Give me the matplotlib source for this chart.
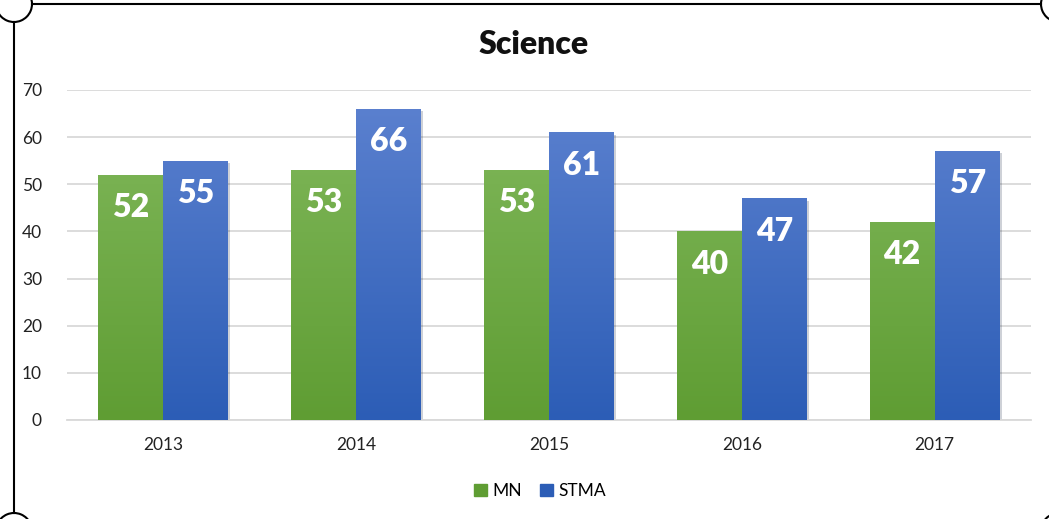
import matplotlib
matplotlib.use('Agg')
from matplotlib import pyplot as plt
from matplotlib.patches import Arc
from matplotlib.lines import Line2D
import matplotlib.patheffects as pe
import numpy as np

years = ['2013', '2014', '2015', '2016', '2017']
mn = [52, 53, 53, 40, 42]
stma = [55, 66, 61, 47, 57]
series_names = ['MN', 'STMA']

W, H = 1049, 519
plt.rcParams['font.family'] = ['Lato', 'DejaVu Sans']

fig = plt.figure(figsize=(W / 100, H / 100), dpi=100)
ax = fig.add_axes([67 / W, 1 - 420 / H, (1031 - 67) / W, (420 - 90) / H])

green_top, green_bot = '#82b95d', '#5f9d33'
blue_top, blue_bot = '#5d82d0', '#2c5db6'


def gradient_bars(ax, xs, vals, width, top, bot, label):
    cmap = matplotlib.colors.LinearSegmentedColormap.from_list('g', [bot, top])
    bars = ax.bar(xs, vals, width, color=bot, label=label, zorder=2,
                  path_effects=[pe.SimplePatchShadow(offset=(1.5, -1.5), alpha=0.2),
                                pe.Normal()])
    grad = np.linspace(0, 1, 256).reshape(-1, 1)
    for b in bars:
        x0, y0 = b.get_x(), b.get_y()
        w, h = b.get_width(), b.get_height()
        im = ax.imshow(grad, cmap=cmap, origin='lower', aspect='auto',
                       extent=(x0, x0 + w, y0, y0 + 70), zorder=3,
                       vmin=0, vmax=1)
        im.set_clip_path(b)
    return bars


x = np.arange(len(years))
w = 0.337
b1 = gradient_bars(ax, x - w / 2, mn, w, green_top, green_bot, series_names[0])
b2 = gradient_bars(ax, x + w / 2, stma, w, blue_top, blue_bot, series_names[1])

for bars, vals in [(b1, mn), (b2, stma)]:
    for b, v in zip(bars, vals):
        ax.annotate(str(v), (b.get_x() + b.get_width() / 2, v),
                    xytext=(0, -23.5), textcoords='offset points',
                    ha='center', va='center', color='white',
                    fontsize=23, fontweight='heavy', zorder=5)

ax.set_xlim(-0.5, len(years) - 0.5)
ax.set_ylim(0, 70)
ax.set_yticks(range(0, 71, 10))
ax.set_xticks(x)
ax.set_xticklabels(years)
ax.grid(axis='y', color='#d9d9d9', linewidth=1.3, zorder=0)
ax.set_axisbelow(True)
for s in ['top', 'right', 'left']:
    ax.spines[s].set_visible(False)
ax.spines['bottom'].set_color('#d9d9d9')
ax.spines['bottom'].set_linewidth(1.3)
ax.tick_params(axis='both', length=0, labelsize=12.5, colors='#222222')
ax.tick_params(axis='y', pad=18)
ax.tick_params(axis='x', pad=12)

fig.text(534 / W, 1 - 44 / H, 'Science', ha='center', va='center',
         fontsize=23, fontweight='heavy', color='#111111')

leg = fig.legend(handles=[b1, b2], labels=series_names, loc='center',
                 bbox_to_anchor=(540 / W, 1 - 491 / H), ncol=2, frameon=False,
                 fontsize=12.5, handlelength=0.75, handleheight=0.75,
                 handletextpad=0.3, columnspacing=1.0)
for h, c in zip(leg.legend_handles, [green_bot, blue_bot]):
    h.set_path_effects([])
    h.set_color(c)

# decorative frame with concave corners
lx, ty, rx, by, r = 14, 4, 1059, 531, 18
def fx(px):
    return px / W
def fy(py):
    return 1 - py / H
kw = dict(color='black', linewidth=1.5, transform=fig.transFigure)
fig.add_artist(Line2D([fx(lx + r), fx(rx - r)], [fy(ty), fy(ty)], **kw))
fig.add_artist(Line2D([fx(lx + r), fx(rx - r)], [fy(by), fy(by)], **kw))
fig.add_artist(Line2D([fx(lx), fx(lx)], [fy(ty + r), fy(by - r)], **kw))
fig.add_artist(Line2D([fx(rx), fx(rx)], [fy(ty + r), fy(by - r)], **kw))
for cx, cy in [(lx, ty), (rx, ty), (lx, by), (rx, by)]:
    fig.add_artist(Arc((fx(cx), fy(cy)), 2 * r / W, 2 * r / H, color='black',
                       linewidth=1.5, transform=fig.transFigure))

fig.savefig('out.png', dpi=100)
